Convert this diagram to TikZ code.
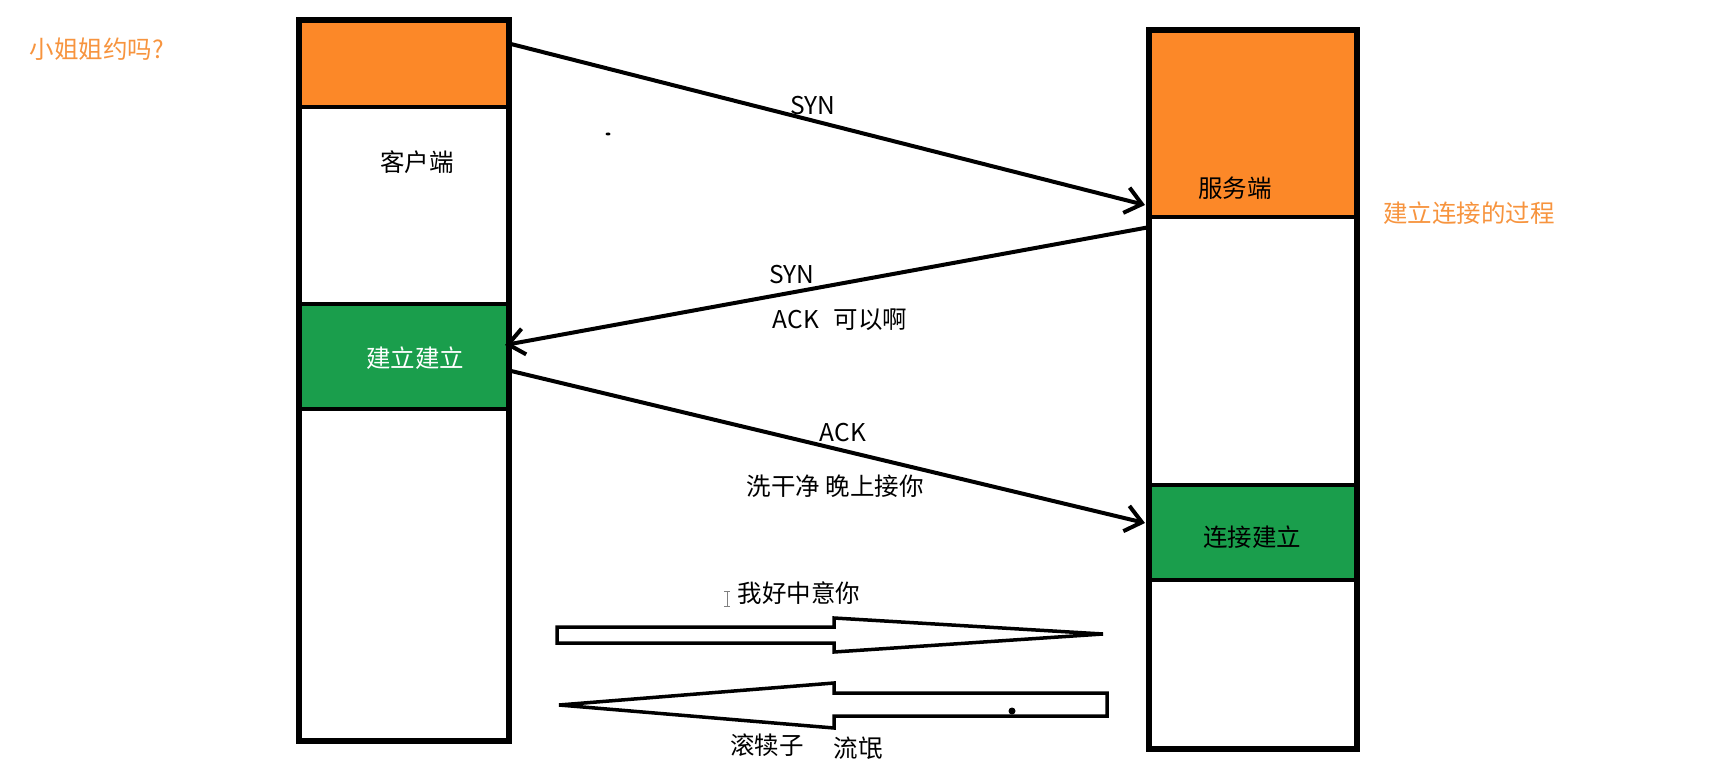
\documentclass[tikz,border=0pt]{standalone}
\usepackage{fontspec}
\setmainfont{Noto Sans CJK SC}
\usetikzlibrary{arrows.meta}
\definecolor{boxorange}{HTML}{FC8828}
\definecolor{boxgreen}{HTML}{1A9E4C}
\definecolor{txtorange}{HTML}{F7943E}
\tikzset{
  colbox/.style={draw=black, line width=4pt, fill=white, rectangle, inner sep=0pt, anchor=north west},
  secbox/.style={draw=black, line width=4pt, rectangle, inner sep=0pt, anchor=north west},
  lbl/.style={font=\fontsize{24.5}{28}\selectfont, inner sep=0pt},
  msg/.style={draw=black, line width=4pt, -{Straight Barb[length=16pt,width=26pt,line width=4pt]}},
  blockarrow/.style={draw=black, line width=3.5pt, line join=miter, fill=white},
}
\begin{document}
\begin{tikzpicture}[x=1pt,y=-1pt]
\useasboundingbox (0,0) rectangle (1709,781);
\fill[white] (0,0) rectangle (1709,781);

% client column
\node[colbox, minimum width=208pt, minimum height=719pt] (client) at (298,19) {};
\node[secbox, fill=boxorange, minimum width=208pt, minimum height=86pt] (corange) at (298,19) {};
\node[secbox, fill=boxgreen, minimum width=208pt, minimum height=105pt] (cgreen) at (298,302) {};
\draw[line width=4pt] (client.north west) rectangle (client.south east);

% server column
\node[colbox, minimum width=206pt, minimum height=717pt] (server) at (1148,29) {};
\node[secbox, fill=boxorange, minimum width=206pt, minimum height=186pt] (sorange) at (1148,29) {};
\node[secbox, fill=boxgreen, minimum width=206pt, minimum height=95pt] (sgreen) at (1148,483) {};
\draw[line width=4pt] (server.north west) rectangle (server.south east);

% labels in boxes
\node[lbl] (clientlbl) at (417,162) {客户端};
\node[lbl, text=white] (cgreenlbl) at (415,358) {建立建立};
\node[lbl] (serverlbl) at (1235,188) {服务端};
\node[lbl] (sgreenlbl) at (1252,537) {连接建立};

% side labels
\node[lbl, text=txtorange] (title1) at (97,49) {小姐姐约吗?};
\node[lbl, text=txtorange] (title2) at (1469,213) {建立连接的过程};

% handshake arrow endpoints
\coordinate (a1s) at (511,44);
\coordinate (a1e) at (1145,205);
\coordinate (a2s) at (1150,227);
\coordinate (a2e) at (505,345);
\coordinate (a3s) at (507,370);
\coordinate (a3e) at (1145,523);

\draw[msg] (a1s) -- (a1e);
\draw[msg] (a2s) -- (a2e);
\draw[msg] (a3s) -- (a3e);

\node[lbl] (syn1) at (813,106) {SYN};
\node[lbl] (syn2) at (792,275) {SYN};
\node[lbl] (ack2) at (840,320) {ACK\hspace{0.6em}可以啊};
\node[lbl] (ack3) at (843,433) {ACK};
\node[lbl] (wash) at (835,486) {洗干净 晚上接你};

% block arrows
\draw[blockarrow] (557,627) -- (834,627) -- (834,618) -- (1103,634) -- (834,652) -- (834,643) -- (557,643) -- cycle;
\draw[blockarrow] (1107,693) -- (834,693) -- (834,683) -- (559,705) -- (834,728) -- (834,716) -- (1107,716) -- cycle;

\node[lbl] (love) at (799,593) {我好中意你};
\node[lbl] (gun) at (767,745) {滚犊子};
\node[lbl] (liumang) at (858,748) {流氓};

% small stray marks
\fill[black] (608,134) ellipse (2.5pt and 1.5pt);
\fill[black] (1012,711) circle (3.5pt);
\draw[gray, line width=0.8pt] (727,591) -- (727,606) (724,591) -- (730,591) (724,606) -- (730,606);
\end{tikzpicture}
\end{document}
